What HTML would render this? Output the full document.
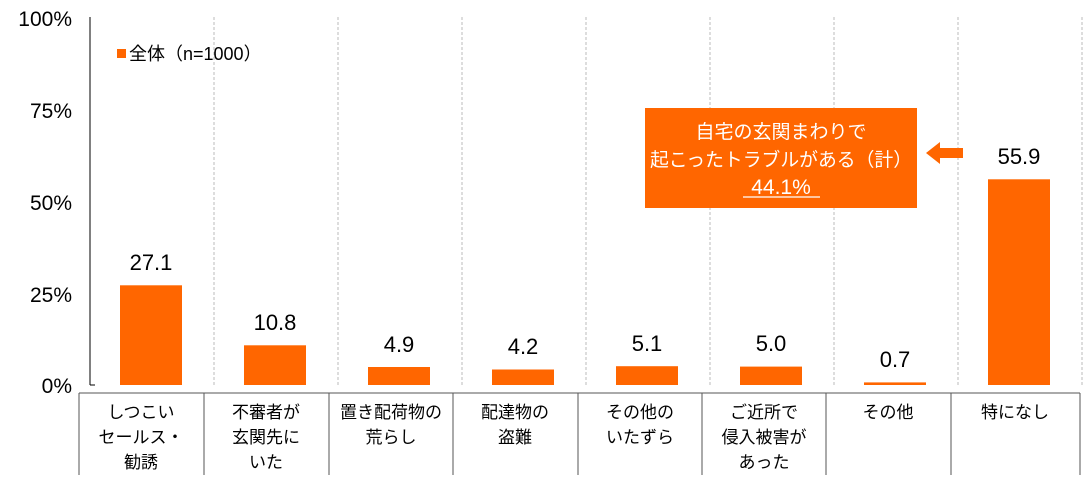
<!DOCTYPE html>
<html><head><meta charset="utf-8"><style>
body{margin:0;background:#fff}
</style></head><body>
<svg width="1086" height="475" xmlns="http://www.w3.org/2000/svg" font-family="Liberation Sans, Noto Sans CJK JP, sans-serif">
<rect width="1086" height="475" fill="#fff"/>
<g stroke="#bbb" stroke-dasharray="3,2" stroke-width="1">
<line x1="214" y1="17" x2="214" y2="385"/><line x1="338" y1="17" x2="338" y2="385"/>
<line x1="462" y1="17" x2="462" y2="385"/><line x1="586" y1="17" x2="586" y2="385"/>
<line x1="710" y1="17" x2="710" y2="385"/><line x1="834" y1="17" x2="834" y2="385"/>
<line x1="958" y1="17" x2="958" y2="385"/><line x1="1082" y1="17" x2="1082" y2="385"/>
</g>
<line x1="90" y1="17" x2="90" y2="385" stroke="#000"/>
<line x1="90" y1="385" x2="95" y2="385" stroke="#000"/>
<g font-size="21" text-anchor="end" fill="#000">
<text x="72" y="26">100%</text><text x="72" y="118">75%</text><text x="72" y="210">50%</text>
<text x="72" y="302">25%</text><text x="72" y="393">0%</text>
</g>
<rect x="117" y="49" width="9" height="9" fill="#ff6600"/>
<text x="129" y="60" font-size="18">全体（n=1000）</text>
<g fill="#ff6600">
<rect x="120" y="285.3" width="62" height="99.7"/>
<rect x="244" y="345.3" width="62" height="39.7"/>
<rect x="368" y="367" width="62" height="18"/>
<rect x="492" y="369.5" width="62" height="15.5"/>
<rect x="616" y="366.2" width="62" height="18.8"/>
<rect x="740" y="366.6" width="62" height="18.4"/>
<rect x="864" y="382.4" width="62" height="2.6"/>
<rect x="988" y="179.3" width="62" height="205.7"/>
</g>
<g font-size="22" text-anchor="middle">
<text x="151" y="270">27.1</text><text x="275" y="330">10.8</text><text x="399" y="352">4.9</text>
<text x="523" y="354">4.2</text><text x="647" y="351">5.1</text><text x="771" y="351">5.0</text>
<text x="895" y="367">0.7</text><text x="1019" y="164">55.9</text>
</g>
<rect x="645" y="108" width="272" height="100" fill="#ff6600"/>
<g fill="#fff" font-size="19" text-anchor="middle">
<text x="781" y="138">自宅の玄関まわりで</text>
<text x="781" y="166" textLength="262" lengthAdjust="spacingAndGlyphs">起こったトラブルがある（計）</text>
<text x="781" y="194" font-size="21">44.1%</text>
</g>
<line x1="743" y1="197" x2="820" y2="197" stroke="#fff" stroke-width="1.3"/>
<polygon points="926,153 940,142 940,148 963,148 963,158 940,158 940,164" fill="#ff6600"/>
<g stroke="#555" fill="none" stroke-width="1">
<line x1="79" y1="393" x2="1080" y2="393"/>
<line x1="79" y1="393" x2="79" y2="475"/><line x1="204" y1="393" x2="204" y2="475"/>
<line x1="329" y1="393" x2="329" y2="475"/><line x1="453" y1="393" x2="453" y2="475"/>
<line x1="578" y1="393" x2="578" y2="475"/><line x1="702" y1="393" x2="702" y2="475"/>
<line x1="826" y1="393" x2="826" y2="475"/><line x1="951" y1="393" x2="951" y2="475"/>
<line x1="1080" y1="393" x2="1080" y2="475"/>
</g>
<g font-size="17" text-anchor="middle">
<text x="141" y="418">しつこい</text><text x="141" y="443">セールス・</text><text x="141" y="468">勧誘</text>
<text x="266" y="418">不審者が</text><text x="266" y="443">玄関先に</text><text x="266" y="468">いた</text>
<text x="391" y="418">置き配荷物の</text><text x="391" y="443">荒らし</text>
<text x="515" y="418">配達物の</text><text x="515" y="443">盗難</text>
<text x="640" y="418">その他の</text><text x="640" y="443">いたずら</text>
<text x="764" y="418">ご近所で</text><text x="764" y="443">侵入被害が</text><text x="764" y="468">あった</text>
<text x="888" y="418">その他</text>
<text x="1015" y="418">特になし</text>
</g>
</svg>
</body></html>
